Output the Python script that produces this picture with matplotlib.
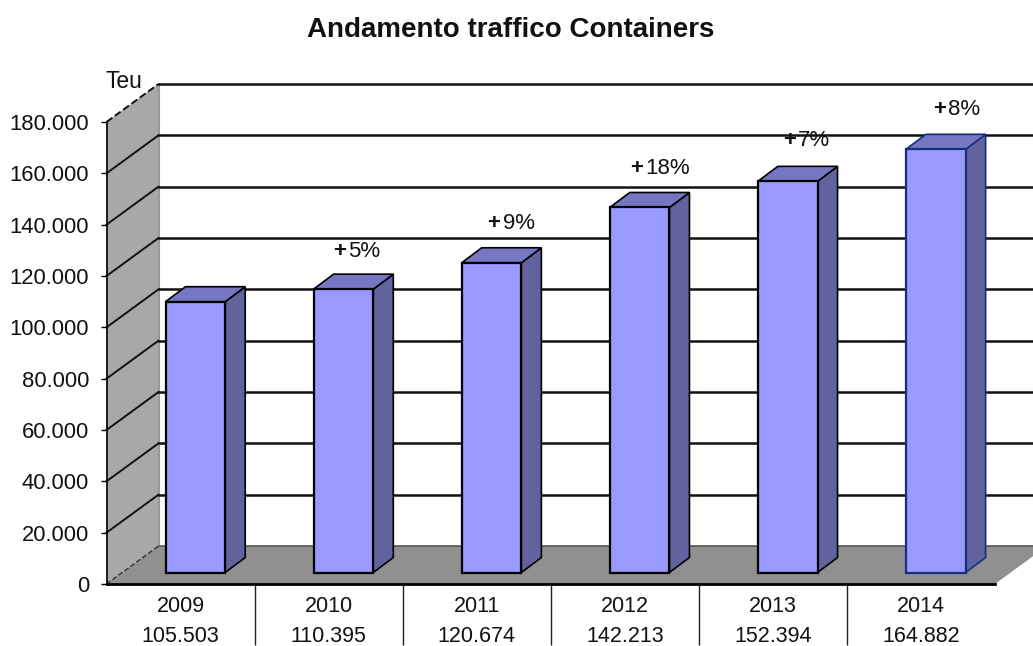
import matplotlib
matplotlib.use('Agg')
import matplotlib.pyplot as plt
from matplotlib.patches import Polygon
from matplotlib.ticker import FuncFormatter

plt.rcParams['font.family'] = ['Liberation Sans', 'DejaVu Sans']

years = ['2009', '2010', '2011', '2012', '2013', '2014']
teu = [105503, 110395, 120674, 142213, 152394, 164882]
growth = ['', '5%', '9%', '18%', '7%', '8%']
growth_dx = [0, -10, -4, -9, -5, -3]
growth_dy = [0, 38, 39, 39, 41, 40]
yticks = list(range(0, 180001, 20000))

W, H = 1033, 646
fig = plt.figure(figsize=(W / 100, H / 100), dpi=100)
ax = fig.add_axes([106.5 / W, (H - 584) / H, 888.5 / W, 462 / H])
ax.set_xlim(0, 6)
ax.set_ylim(0, 180000)

# pixels to data units
px = 6 / 888.5
py = 180000 / 462

# depth of the box and of the bars
box_dx, box_dy = 52 * px, 38 * py
bar_dx, bar_dy = 20 * px, 15 * py
base = 11.5 * py
bar_w = 59.7 * px
bar_shift = 0.6 - 0.5

wall = Polygon([(0, 0), (box_dx, box_dy), (box_dx, 180000 + box_dy), (0, 180000)],
               fc='#a8a8a8', ec='none', clip_on=False, zorder=1)
ax.add_patch(wall)
floor = Polygon([(0, 0), (box_dx, box_dy), (6 + box_dx, box_dy), (6, 0)],
                fc='#909090', ec='none', clip_on=False, zorder=1)
ax.add_patch(floor)
ax.plot([0, box_dx], [0, box_dy], color='#333333', lw=1, ls='--', clip_on=False, zorder=2)
ax.plot([box_dx, box_dx], [0 + box_dy, 180000 + box_dy], color='#999999', lw=1.5, clip_on=False, zorder=1.5)
ax.plot([box_dx, 6 + box_dx], [box_dy, box_dy], color='#555555', lw=1.2, clip_on=False, zorder=2)

for t in yticks[1:]:
    ls = '--' if t == 180000 else '-'
    ax.plot([0, box_dx], [t, t + box_dy], color='#111111', lw=1.4, ls=ls, clip_on=False, zorder=2)
    ax.plot([box_dx, 6 + box_dx], [t + box_dy, t + box_dy], color='#111111', lw=1.8, clip_on=False, zorder=2)

for i, v in enumerate(teu):
    x = i + 0.5 + bar_shift
    edge = '#12307f' if i == 5 else '#000000'
    ax.bar(x, v, bottom=base, width=bar_w, color='#9999ff', edgecolor=edge, lw=1.6, zorder=4, clip_on=False)
    x1 = x + bar_w / 2
    x0 = x - bar_w / 2
    top = v + base
    side = Polygon([(x1, base), (x1 + bar_dx, base + bar_dy), (x1 + bar_dx, top + bar_dy), (x1, top)],
                   fc='#62629f', ec=edge, lw=1.2, zorder=3, clip_on=False)
    lid = Polygon([(x0, top), (x0 + bar_dx, top + bar_dy), (x1 + bar_dx, top + bar_dy), (x1, top)],
                  fc='#7676c2', ec=edge, lw=1.2, zorder=3, clip_on=False)
    ax.add_patch(side)
    ax.add_patch(lid)
    if growth[i]:
        ax.annotate('+', (x, top), xytext=(growth_dx[i] / 1.389, growth_dy[i] / 1.389),
                    textcoords='offset points', ha='left', va='center',
                    fontsize=16, fontweight='bold', color='#111111', zorder=5)
        ax.annotate(growth[i], (x, top), xytext=((growth_dx[i] + 15) / 1.389, growth_dy[i] / 1.389),
                    textcoords='offset points', ha='left', va='center',
                    fontsize=16, color='#111111', zorder=5)

for s in ['top', 'right']:
    ax.spines[s].set_visible(False)
ax.spines['left'].set_linewidth(1.2)
ax.spines['bottom'].set_linewidth(2)
ax.spines['left'].set_zorder(3)
ax.spines['bottom'].set_zorder(3)
ax.patch.set_alpha(0)

ax.set_yticks(yticks)
ax.yaxis.set_major_formatter(FuncFormatter(lambda v, p: f'{int(v):,}'.replace(',', '.')))
ax.tick_params(axis='y', length=4, width=1, pad=8.5, labelsize=15.8, labelcolor='#111111')

ax.set_xticks(range(1, 6))
ax.set_xticklabels([])
ax.tick_params(axis='x', which='major', length=44, width=1, color='#222222')
ax.set_xticks([i + 0.5 for i in range(6)], minor=True)
ax.set_xticklabels([f'{y}\n{v:,}'.replace(',', '.') for y, v in zip(years, teu)], minor=True)
ax.tick_params(axis='x', which='minor', length=0, pad=8.5, labelsize=15.5, labelcolor='#111111')
for lab in ax.get_xticklabels(minor=True):
    lab.set_linespacing(1.55)

fig.text(510.5 / W, 1 - 30 / H, 'Andamento traffico Containers', ha='center', va='center',
         fontsize=20, fontweight='bold', color='#111111')
fig.text(124 / W, 1 - 81 / H, 'Teu', ha='center', va='center', fontsize=16.5, color='#111111')

fig.savefig('out.png', dpi=100)
